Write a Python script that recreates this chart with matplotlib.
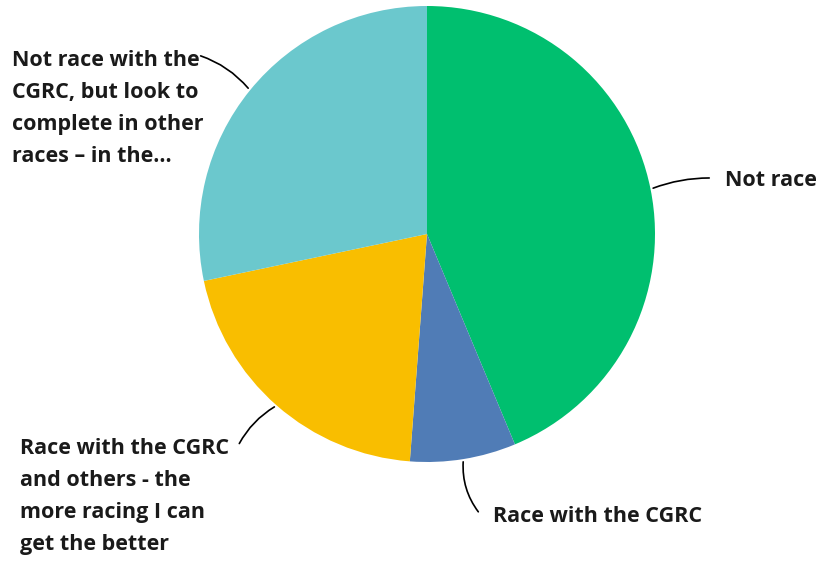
import numpy as np
import matplotlib.pyplot as plt

# respuestas y porcentajes
etiquetas = ["Not race",
             "Race with the CGRC",
             "Race with the CGRC\nand others - the\nmore racing I can\nget the better",
             "Not race with the\nCGRC, but look to\ncomplete in other\nraces \u2013 in the..."]
porcentajes = [43.7, 7.5, 20.5, 28.3]
colores = ["#00BF6F", "#507CB6", "#F9BE00", "#6BC8CD"]

plt.rcParams['font.family'] = ['Open Sans', 'DejaVu Sans']

fig = plt.figure(figsize=(8.18, 5.63), dpi=100)
ax = fig.add_axes([0, 0, 1, 1])

centro = (427, 563 - 234)
radio = 228
cunas, _ = ax.pie(porcentajes, colors=colores, startangle=90, counterclock=False,
                  center=centro, radius=radio, wedgeprops={'linewidth': 0})
ax.set_xlim(0, 818)
ax.set_ylim(0, 563)
ax.set_aspect('equal')
ax.axis('off')

# donde va cada texto (esquina del texto y final de la linea)
pos_texto = [(725, 563 - 180, 'left', 'center'),
             (493, 563 - 517, 'left', 'center'),
             (20, 563 - 438, 'left', 'top'),
             (12, 563 - 50, 'left', 'top')]
fin_linea = [(712, 563 - 178), (480, 563 - 514), (238, 563 - 446), (198, 563 - 55)]
curvas = [0.1, -0.2, -0.15, -0.15]

for cuna, txt, pt, fin, rad in zip(cunas, etiquetas, pos_texto, fin_linea, curvas):
    ang = np.deg2rad((cuna.theta1 + cuna.theta2) / 2)
    x0 = centro[0] + radio * np.cos(ang)
    y0 = centro[1] + radio * np.sin(ang)
    ax.annotate("", xy=(x0, y0), xytext=fin,
                arrowprops=dict(arrowstyle='-', color='black', lw=1.2,
                                connectionstyle="arc3,rad=%s" % rad))
    ax.text(pt[0], pt[1], txt, ha=pt[2], va=pt[3], fontsize=15.5,
            fontweight='bold', color='#1a1a1a', linespacing=1.68)

fig.savefig("out.png", dpi=100)
